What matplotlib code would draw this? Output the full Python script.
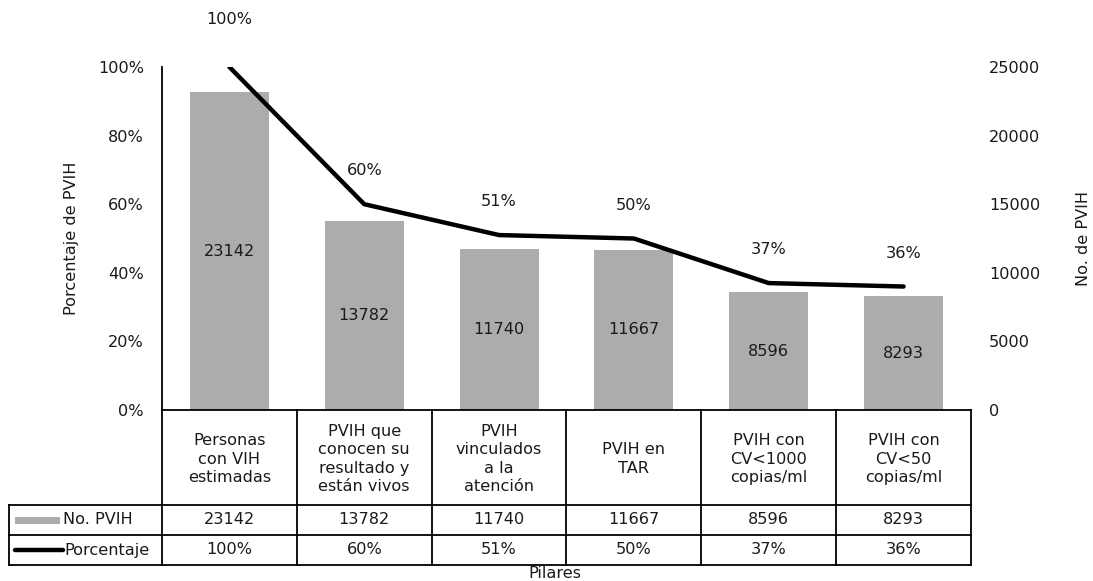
import matplotlib
matplotlib.use("Agg")
import matplotlib.pyplot as plt
import matplotlib.transforms as mtransforms
from matplotlib.patches import Rectangle

plt.rcParams['font.family'] = ['DejaVu Sans']

# ---- data ----
categories = ["Personas\ncon VIH\nestimadas",
              "PVIH que\nconocen su\nresultado y\nestán vivos",
              "PVIH\nvinculados\na la\natención",
              "PVIH en\nTAR",
              "PVIH con\nCV<1000\ncopias/ml",
              "PVIH con\nCV<50\ncopias/ml"]
counts = [23142, 13782, 11740, 11667, 8596, 8293]
percents = [1.00, 0.60, 0.51, 0.50, 0.37, 0.36]
pct_labels = ["100%", "60%", "51%", "50%", "37%", "36%"]
left_ticks = [0, 0.2, 0.4, 0.6, 0.8, 1.0]
left_tick_labels = ["0%", "20%", "40%", "60%", "80%", "100%"]
right_ticks = [0, 5000, 10000, 15000, 20000, 25000]
series_names = ["No. PVIH", "Porcentaje"]

BAR_COLOR = "#aeabab"
TXT = "#1a1a1a"
FS = 11.6

W, H = 1093, 581
fig = plt.figure(figsize=(W / 100, H / 100), dpi=100)
ax_l, ax_r, ax_b, ax_t = 162, 971, 410, 67
ax = fig.add_axes([ax_l / W, 1 - ax_b / H, (ax_r - ax_l) / W, (ax_b - ax_t) / H])
ax2 = ax.twinx()

x = list(range(len(categories)))

# bars on the right axis
ax2.bar(x, counts, width=0.585, color=BAR_COLOR, zorder=2)
ax2.set_ylim(0, 25000)
ax2.set_yticks(right_ticks)
ax2.set_yticklabels([str(t) for t in right_ticks], fontsize=FS, color=TXT)
for xi, c in zip(x, counts):
    ax2.text(xi, c / 2, str(c), ha="center", va="center", fontsize=FS, color=TXT)

# line on the left axis
ax.set_zorder(ax2.get_zorder() + 1)
ax.patch.set_visible(False)
ax.plot(x, percents, color="black", lw=3.2, solid_capstyle="round",
        solid_joinstyle="round", zorder=3)
ax.set_ylim(0, 1.0)
ax.set_xlim(-0.5, len(categories) - 0.5)
ax.set_yticks(left_ticks)
ax.set_yticklabels(left_tick_labels, fontsize=FS, color=TXT)
for i, (xi, p, lab) in enumerate(zip(x, percents, pct_labels)):
    off = 34 if i == 0 else 24
    ax.annotate(lab, (xi, p), xytext=(0, off), textcoords="offset points",
                ha="center", va="center", fontsize=FS, color=TXT, annotation_clip=False)

for a in (ax, ax2):
    a.tick_params(axis="both", length=0)
    for s in a.spines.values():
        s.set_visible(False)
    a.set_xticks([])
ax.tick_params(axis="y", pad=13)
ax2.tick_params(axis="y", pad=13)
ax.spines["left"].set_visible(True)
ax.spines["left"].set_linewidth(1.3)

ax.set_ylabel("Porcentaje de PVIH", fontsize=FS, color=TXT, labelpad=14)
ax2.set_ylabel("No. de PVIH", fontsize=FS, color=TXT, labelpad=26)

# ---- data table below the axes ----
tr = mtransforms.blended_transform_factory(ax.transData, ax.transAxes)
axh = ax_b - ax_t
y0 = 0.0
y1 = -95 / axh
y2 = -125 / axh
y3 = -155 / axh
n = len(categories)
unit = (ax_r - ax_l) / n
xl = -0.5 - 153 / unit
xr = n - 0.5
lk = dict(color="black", lw=1.3, transform=tr, clip_on=False)
# horizontal lines
ax.plot([-0.5, xr], [y0, y0], **lk)
for yy in (y1, y2, y3):
    ax.plot([xl, xr], [yy, yy], **lk)
# vertical lines
for i in range(n + 1):
    ax.plot([i - 0.5, i - 0.5], [y0, y3], **lk)
ax.plot([xl, xl], [y1, y3], **lk)

hdr_y = -(459 - ax_b) / axh
row1_y = (y1 + y2) / 2
row2_y = (y2 + y3) / 2
for xi, cat, c, lab in zip(x, categories, counts, pct_labels):
    ax.text(xi, hdr_y, cat, transform=tr, ha="center", va="center",
            fontsize=FS, color=TXT, linespacing=1.3)
    ax.text(xi, row1_y, str(c), transform=tr, ha="center", va="center",
            fontsize=FS, color=TXT)
    ax.text(xi, row2_y, lab, transform=tr, ha="center", va="center",
            fontsize=FS, color=TXT)

# legend keys in the table
kx0 = -0.5 - (ax_l - 15) / unit
kx1 = -0.5 - (ax_l - 60) / unit
ax.add_patch(Rectangle((kx0, row1_y - 3.5 / axh), kx1 - kx0, 7 / axh,
                       facecolor=BAR_COLOR, edgecolor="none", transform=tr, clip_on=False))
ax.plot([kx0, kx1 + 0.02], [row2_y, row2_y], color="black", lw=3.2,
        transform=tr, clip_on=False, solid_capstyle="round")
tx = -0.5 - (ax_l - 63) / unit
ax.text(tx, row1_y, series_names[0], transform=tr, ha="left", va="center",
        fontsize=FS, color=TXT)
ax.text(tx + 0.01, row2_y, series_names[1], transform=tr, ha="left", va="center",
        fontsize=FS, color=TXT)

fig.text(555 / W, 1 - 574 / H, "Pilares", ha="center", va="center", fontsize=FS, color=TXT)

fig.savefig("out.png", dpi=100)
